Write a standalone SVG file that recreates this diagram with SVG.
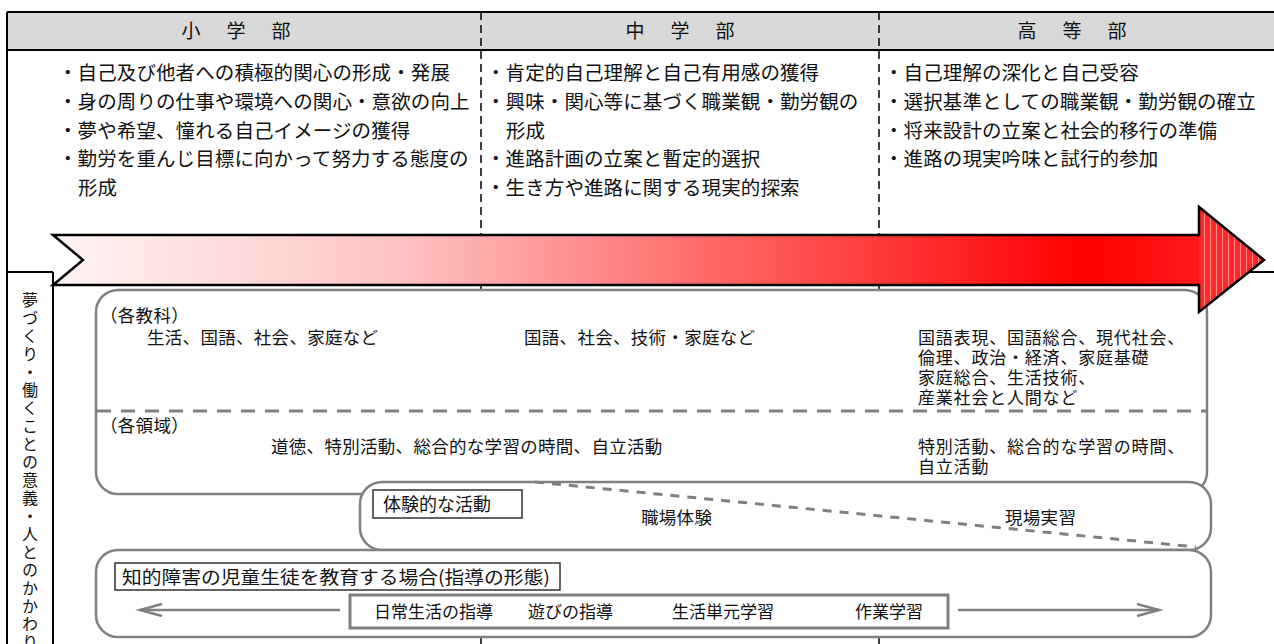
<svg xmlns="http://www.w3.org/2000/svg" width="1274" height="644" viewBox="0 0 1274 644">
<defs>
<style>
text{font-family:"Noto Sans CJK JP","Noto Sans CJK SC",sans-serif;fill:#111}
.hd{font-size:19px;text-anchor:middle}
.row{font-size:19.5px;letter-spacing:0.1px}
.bx{font-size:17.5px;letter-spacing:0.3px}
.rc{font-size:17px;letter-spacing:0.8px}
.b18{font-size:18px}
.b17{font-size:17px}
.vt{font-size:16px;letter-spacing:2px;writing-mode:vertical-rl}
.gbox{fill:#fff;stroke:#808080;stroke-width:2.5}
.lbl{fill:#fff;stroke:#333;stroke-width:1.5}
.div{stroke:#000;stroke-width:1.5;stroke-dasharray:8 5;fill:none}
.gdash{stroke:#808080;stroke-width:3;stroke-dasharray:14 10;fill:none}
.sdash{stroke:#808080;stroke-width:3;stroke-dasharray:9 8;fill:none}
.garrow{stroke:#808080;stroke-width:2.5;fill:none;marker-end:url(#ah)}
.blk{stroke:#000;stroke-width:2;fill:none}
</style>
<linearGradient id="bodyg" gradientUnits="userSpaceOnUse" x1="53" y1="0" x2="1199" y2="0">
<stop offset="0" stop-color="#fff4f4"/>
<stop offset="0.3" stop-color="#ffc4c4"/>
<stop offset="0.55" stop-color="#ff7070"/>
<stop offset="0.8" stop-color="#ff2020"/>
<stop offset="0.9" stop-color="#ff0000"/>
<stop offset="1" stop-color="#ff1a1a"/>
</linearGradient>
<pattern id="stripes" patternUnits="userSpaceOnUse" width="6" height="10">
<rect width="6" height="10" fill="#ff2828"/>
<rect x="4" width="1" height="10" fill="#ff8c8c"/>
</pattern>
<marker id="ah" markerUnits="userSpaceOnUse" markerWidth="28" markerHeight="16" refX="23" refY="7" orient="auto">
<path d="M1,1 L23,7 L1,13" fill="none" stroke="#808080" stroke-width="2.5"/>
</marker>
</defs>

<g id="frame">
<rect x="7" y="12" width="1267" height="38" fill="#d9d9d9"/>
<line class="div" x1="481" y1="12" x2="481" y2="644"/>
<line class="div" x1="879" y1="12" x2="879" y2="644"/>
<line class="blk" x1="7" y1="12" x2="1274" y2="12"/>
<line class="blk" x1="7" y1="50" x2="1274" y2="50" stroke-width="1.5"/>
<line class="blk" x1="7" y1="12" x2="7" y2="644"/>
<line class="blk" x1="7" y1="272" x2="53" y2="272"/>
<line class="blk" x1="1200" y1="272" x2="1274" y2="272"/>
<line class="blk" x1="53" y1="272" x2="53" y2="644"/>
</g>

<g id="header">
<text class="hd" y="38"><tspan x="191">小</tspan><tspan x="236">学</tspan><tspan x="281">部</tspan></text>
<text class="hd" y="38"><tspan x="635">中</tspan><tspan x="680">学</tspan><tspan x="725">部</tspan></text>
<text class="hd" y="38"><tspan x="1027">高</tspan><tspan x="1072">等</tspan><tspan x="1117">部</tspan></text>
</g>

<g id="elementary-goals">
<text class="row" x="58" y="80">・自己及び他者への積極的関心の形成・発展</text>
<text class="row" x="58" y="109">・身の周りの仕事や環境への関心・意欲の向上</text>
<text class="row" x="58" y="138">・夢や希望、憧れる自己イメージの獲得</text>
<text class="row" x="58" y="166">・勤労を重んじ目標に向かって努力する態度の</text>
<text class="row" x="78" y="195">形成</text>
</g>

<g id="junior-goals">
<text class="row" x="486" y="80">・肯定的自己理解と自己有用感の獲得</text>
<text class="row" x="486" y="109">・興味・関心等に基づく職業観・勤労観の</text>
<text class="row" x="506" y="138">形成</text>
<text class="row" x="486" y="166">・進路計画の立案と暫定的選択</text>
<text class="row" x="486" y="195">・生き方や進路に関する現実的探索</text>
</g>

<g id="senior-goals">
<text class="row" x="884" y="80">・自己理解の深化と自己受容</text>
<text class="row" x="884" y="109">・選択基準としての職業観・勤労観の確立</text>
<text class="row" x="884" y="138">・将来設計の立案と社会的移行の準備</text>
<text class="row" x="884" y="166">・進路の現実吟味と試行的参加</text>
</g>

<g id="side-label">
<text class="vt" x="30" y="292">夢づくり・働くことの意義・人とのかかわり</text>
</g>

<g id="subjects-box">
<rect class="gbox" x="96" y="290" width="1111" height="204" rx="22"/>
<line class="gdash" x1="97" y1="411" x2="1206" y2="411"/>
<text class="bx" x="100" y="322">（各教科）</text>
<text class="bx" x="147" y="344">生活、国語、社会、家庭など</text>
<text class="bx" x="524" y="344">国語、社会、技術・家庭など</text>
<text class="rc" x="918" y="344">国語表現、国語総合、現代社会、</text>
<text class="rc" x="918" y="364">倫理、政治・経済、家庭基礎</text>
<text class="rc" x="918" y="384">家庭総合、生活技術、</text>
<text class="rc" x="918" y="404">産業社会と人間など</text>
<text class="bx" x="100" y="432">（各領域）</text>
<text class="bx" x="271" y="453">道徳、特別活動、総合的な学習の時間、自立活動</text>
<text class="rc" x="918" y="453">特別活動、総合的な学習の時間、</text>
<text class="rc" x="918" y="473">自立活動</text>
</g>

<g id="arrow">
<polygon points="53,235 1199,235 1199,285 53,285 83,260" fill="url(#bodyg)"/>
<polygon points="1199,207 1264,260 1199,312" fill="url(#stripes)"/>
<polygon points="53,235 1199,235 1199,207 1264,260 1199,312 1199,285 53,285 83,260" fill="none" stroke="#000" stroke-width="2.5" stroke-linejoin="miter"/>
</g>

<g id="experience-box">
<rect class="gbox" x="360" y="482" width="851" height="68" rx="22"/>
<rect class="lbl" x="373" y="490" width="149" height="28"/>
<text class="b18" x="383" y="511">体験的な活動</text>
<text class="bx" x="641" y="524">職場体験</text>
<text class="bx" x="1005" y="524">現場実習</text>
</g>

<g id="guidance-box">
<rect class="gbox" x="96" y="550" width="1115" height="87" rx="22"/>
<rect class="lbl" x="115" y="563" width="445" height="27"/>
<text class="b18" x="122" y="584" textLength="428" lengthAdjust="spacingAndGlyphs">知的障害の児童生徒を教育する場合(指導の形態)</text>
<rect x="350" y="595" width="598" height="33" fill="#fff" stroke="#808080" stroke-width="3"/>
<text class="b17" x="374" y="618">日常生活の指導</text>
<text class="b17" x="528" y="618">遊びの指導</text>
<text class="b17" x="672" y="618">生活単元学習</text>
<text class="b17" x="855" y="618">作業学習</text>
</g>

<g id="connectors">
<line class="sdash" x1="535" y1="482" x2="1196" y2="547"/>
<line class="garrow" x1="340" y1="610" x2="140" y2="610"/>
<line class="garrow" x1="958" y1="610" x2="1159" y2="610"/>
</g>
</svg>
